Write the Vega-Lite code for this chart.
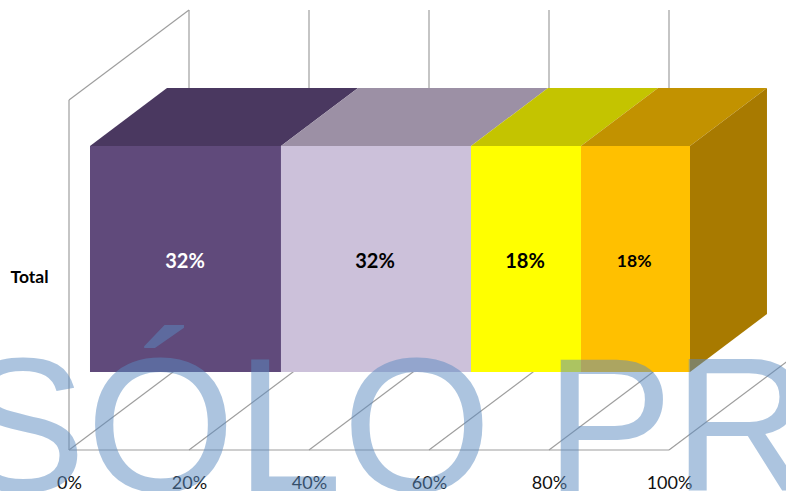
{
"$schema":"https://vega.github.io/schema/vega-lite/v6.json",
"width":786,"height":491,"padding":0,"autosize":{"type":"none"},
"background":"white",
"config":{"view":{"stroke":null}},
"datasets":{
"walls":[
{"x":0,"y":0,"x2":0,"y2":79.55},{"x":0,"y":79.55,"x2":20,"y2":100},
{"x":20,"y":20.45,"x2":20,"y2":100},{"x":40,"y":20.45,"x2":40,"y2":100},{"x":60,"y":20.45,"x2":60,"y2":100},{"x":80,"y":20.45,"x2":80,"y2":100},{"x":100,"y":20.45,"x2":100,"y2":100},
{"x":0,"y":0,"x2":100,"y2":0},
{"x":0,"y":0,"x2":20,"y2":20.45},{"x":20,"y":0,"x2":40,"y2":20.45},{"x":40,"y":0,"x2":60,"y2":20.45},{"x":60,"y":0,"x2":80,"y2":20.45},{"x":80,"y":0,"x2":100,"y2":20.45},{"x":100,"y":0,"x2":120,"y2":20.45}
],
"front":[
{"series":"A","x":3.5,"x2":35.33,"y":17.73,"y2":69.09},
{"series":"B","x":35.33,"x2":67,"y":17.73,"y2":69.09},
{"series":"C","x":67,"x2":85.33,"y":17.73,"y2":69.09},
{"series":"D","x":85.33,"x2":103.5,"y":17.73,"y2":69.09}
],
"top":[
{"series":"A","x":3.5,"y":69.09,"y2":69.09},{"series":"A","x":16.33,"y":82.27,"y2":69.09},{"series":"A","x":35.33,"y":82.27,"y2":69.09},{"series":"A","x":48.17,"y":82.27,"y2":82.27},
{"series":"B","x":35.33,"y":69.09,"y2":69.09},{"series":"B","x":48.17,"y":82.27,"y2":69.09},{"series":"B","x":67,"y":82.27,"y2":69.09},{"series":"B","x":79.83,"y":82.27,"y2":82.27},
{"series":"C","x":67,"y":69.09,"y2":69.09},{"series":"C","x":79.83,"y":82.27,"y2":69.09},{"series":"C","x":85.33,"y":82.27,"y2":69.09},{"series":"C","x":98.17,"y":82.27,"y2":82.27},
{"series":"D","x":85.33,"y":69.09,"y2":69.09},{"series":"D","x":98.17,"y":82.27,"y2":69.09},{"series":"D","x":103.5,"y":82.27,"y2":69.09},{"series":"D","x":116.33,"y":82.27,"y2":82.27}
],
"side":[
{"x":103.5,"y":69.09,"y2":17.73},{"x":116.33,"y":82.27,"y2":30.91}
],
"labels":[
{"series":"A","x":19.33,"y":42.73,"label":"32%"},
{"series":"B","x":51,"y":42.73,"label":"32%"},
{"series":"C","x":76.0,"y":42.73,"label":"18%"},
{"series":"D","x":94.2,"y":42.73,"label":"18%"}
],
"mark":[{"x":-18.5,"y":-9.3,"text":"SÓLO PR"}]
},
"layer":[
{"data":{"name":"walls"},"mark":{"type":"rule","color":"#9e9e9e","strokeWidth":1.2},
 "encoding":{
  "x":{"field":"x","type":"quantitative","scale":{"domain":[-11.5,119.5],"nice":false,"zero":false},
       "axis":{"title":null,"grid":false,"domain":false,"ticks":false,"values":[0,20,40,60,80,100],"labelExpr":"datum.value + '%'","labelFont":"Lato","labelFontSize":18,"labelColor":"#111111","labelPadding":0,"offset":-17,"labelOverlap":false,"labelFlush":false}},
  "y":{"field":"y","type":"quantitative","scale":{"domain":[-9.318,102.273],"nice":false,"zero":false},
       "axis":{"title":null,"grid":false,"domain":false,"ticks":false,"values":[39.1],"labelExpr":"'Total'","labelFont":"Lato","labelFontWeight":"bold","labelFontSize":17.5,"labelColor":"#000000","labelPadding":0,"offset":-48}},
  "x2":{"field":"x2"},"y2":{"field":"y2"}}},
{"data":{"name":"top"},"mark":{"type":"area","orient":"vertical","interpolate":"linear"},
 "encoding":{
  "x":{"field":"x","type":"quantitative"},
  "y":{"field":"y","type":"quantitative","stack":null},
  "y2":{"field":"y2"},
  "color":{"field":"series","type":"nominal","legend":null,"scale":{"domain":["A","B","C","D"],"range":["#4a3860","#9c90a5","#c4c400","#c29200"]}}}},
{"data":{"name":"side"},"mark":{"type":"area","orient":"vertical","color":"#a87a00"},
 "encoding":{
  "x":{"field":"x","type":"quantitative"},
  "y":{"field":"y","type":"quantitative","stack":null},
  "y2":{"field":"y2"}}},
{"data":{"name":"front"},"mark":{"type":"rect"},
 "encoding":{
  "x":{"field":"x","type":"quantitative"},"x2":{"field":"x2"},
  "y":{"field":"y","type":"quantitative"},"y2":{"field":"y2"},
  "color":{"field":"series","type":"nominal","legend":null,"scale":{"domain":["A","B","C","D"],"range":["#604a7b","#ccc1da","#ffff00","#ffc000"]}}}},
{"data":{"name":"labels"},"transform":[{"filter":"datum.series === 'A'"}],"mark":{"type":"text","font":"Lato","fontWeight":"bold","fontSize":20,"color":"#ffffff"},
 "encoding":{"x":{"field":"x","type":"quantitative"},"y":{"field":"y","type":"quantitative"},"text":{"field":"label"}}},
{"data":{"name":"labels"},"transform":[{"filter":"datum.series === 'B' || datum.series === 'C'"}],"mark":{"type":"text","font":"Lato","fontWeight":"bold","fontSize":20,"color":"#000000"},
 "encoding":{"x":{"field":"x","type":"quantitative"},"y":{"field":"y","type":"quantitative"},"text":{"field":"label"}}},
{"data":{"name":"labels"},"transform":[{"filter":"datum.series === 'D'"}],"mark":{"type":"text","font":"Lato","fontWeight":"bold","fontSize":17.5,"color":"#000000"},
 "encoding":{"x":{"field":"x","type":"quantitative"},"y":{"field":"y","type":"quantitative"},"text":{"field":"label"}}},
{"data":{"name":"mark"},"mark":{"type":"text","font":"Liberation Sans","fontSize":192,"align":"left","baseline":"alphabetic","color":"#5b8bc1","opacity":0.5,"clip":true},
 "encoding":{"x":{"field":"x","type":"quantitative"},"y":{"field":"y","type":"quantitative"},"text":{"field":"text"}}}
],
"resolve":{"scale":{"color":"independent"}}
}
